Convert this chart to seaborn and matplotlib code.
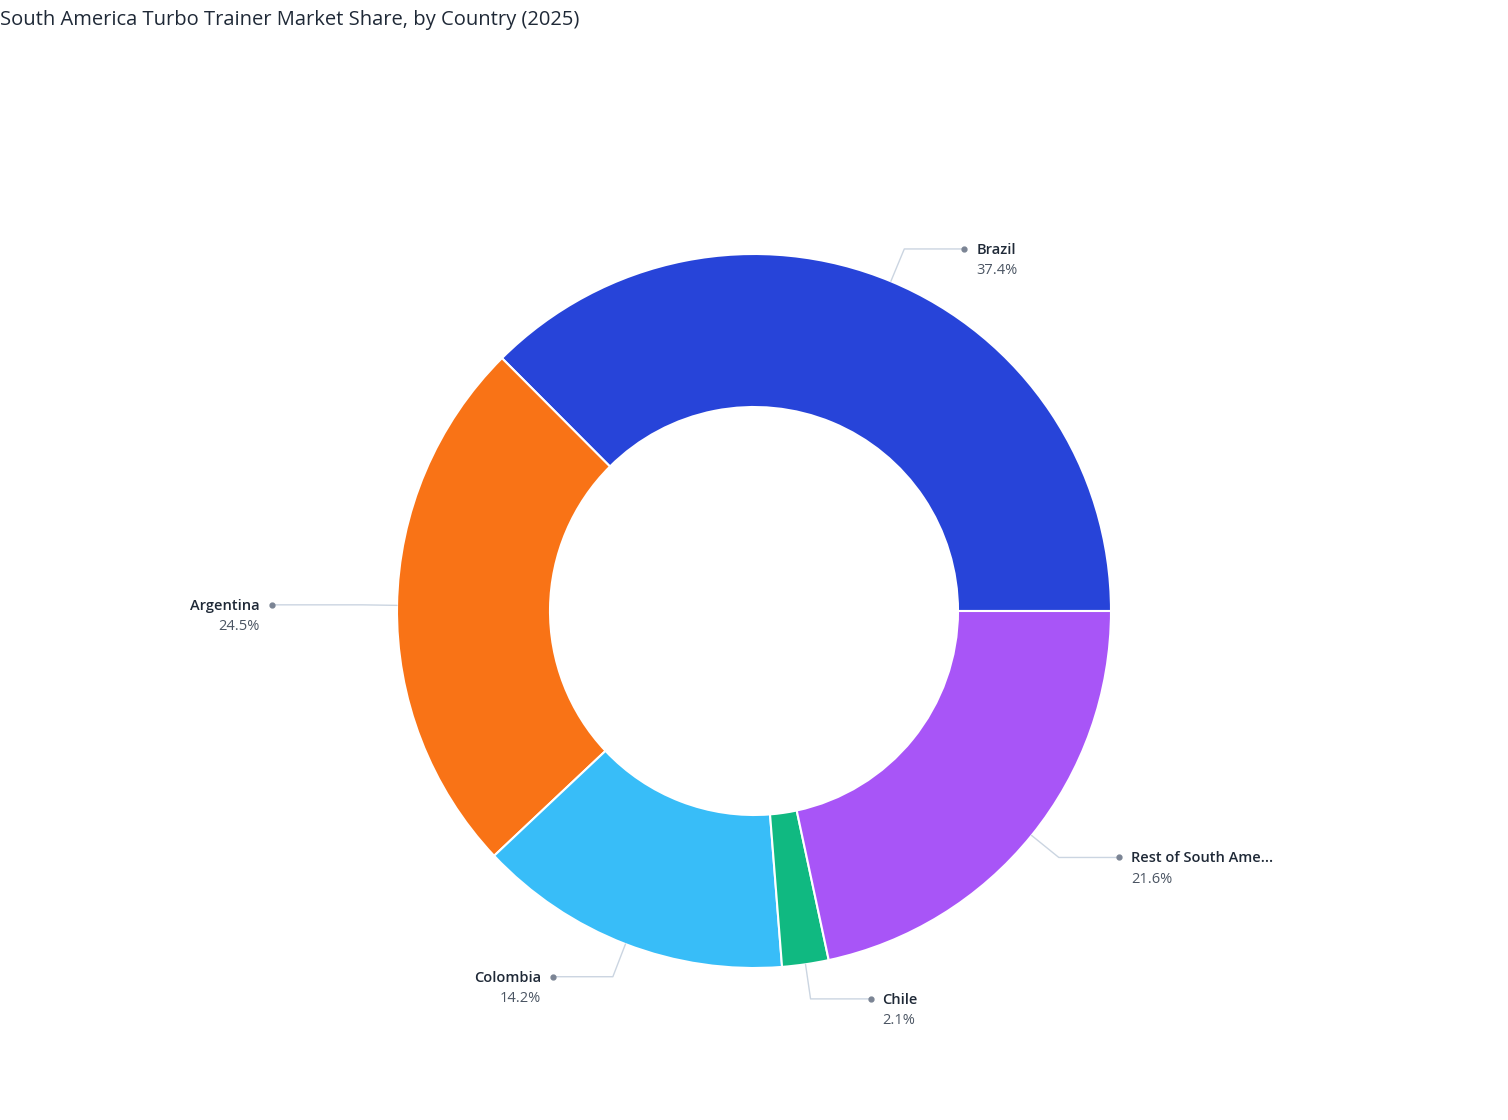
import numpy as np
import matplotlib
matplotlib.use("Agg")
import matplotlib.pyplot as plt
import seaborn as sns

countries = ["Brazil", "Argentina", "Colombia", "Chile", "Rest of South Ame..."]
shares = [37.4, 24.5, 14.2, 2.1, 21.6]
colors = ["#2744d9", "#f97316", "#38bdf8", "#10b981", "#a855f7"]

sns.set_theme(style="white")
plt.rcParams["font.family"] = ["Open Sans", "DejaVu Sans"]

W, H = 1508, 1120
fig = plt.figure(figsize=(W / 100, H / 100), dpi=100)
ax = fig.add_axes([0, 0, 1, 1])
ax.set_xlim(0, W)
ax.set_ylim(0, H)
ax.set_aspect("equal")
ax.axis("off")

cx, cy, R, r_in = 754, H - 611, 357, 204
ax.pie(shares, colors=colors, startangle=0, counterclock=True,
       center=(cx, cy), radius=R, frame=True,
       wedgeprops=dict(width=R - r_in, edgecolor="white", linewidth=1.5))
ax.set_xlim(0, W)
ax.set_ylim(0, H)
ax.axis("off")

# leader lines
total = sum(shares)
angles = np.cumsum([0] + shares) / total * 360
line_len = 60
for i, (name, val) in enumerate(zip(countries, shares)):
    mid = np.deg2rad((angles[i] + angles[i + 1]) / 2)
    x0, y0 = cx + R * np.cos(mid), cy + R * np.sin(mid)
    x1, y1 = cx + (R + 35) * np.cos(mid), cy + (R + 35) * np.sin(mid)
    side = 1 if np.cos(mid) >= 0 else -1
    x2 = x1 + side * line_len
    if name == "Argentina":
        x2 = x1 - 90
    ax.plot([x0, x1, x2], [y0, y1, y1], color="#cbd5e1", lw=1)
    ax.plot([x2], [y1], "o", color="#7b8494", ms=3.5)
    tx = x2 + side * 12
    ha = "left" if side > 0 else "right"
    ax.text(tx, y1 - 1, name, ha=ha, va="center", fontsize=10.5,
            color="#1f2937", fontweight="semibold")
    ax.text(tx, y1 - 22, f"{val}%", ha=ha, va="center", fontsize=10.5,
            color="#4b5563")

fig.text(0.0, 1 - 20 / H, "South America Turbo Trainer Market Share, by Country (2025)",
         ha="left", va="center", fontsize=14.5, color="#1f2937")

fig.savefig("out.png", dpi=100)
